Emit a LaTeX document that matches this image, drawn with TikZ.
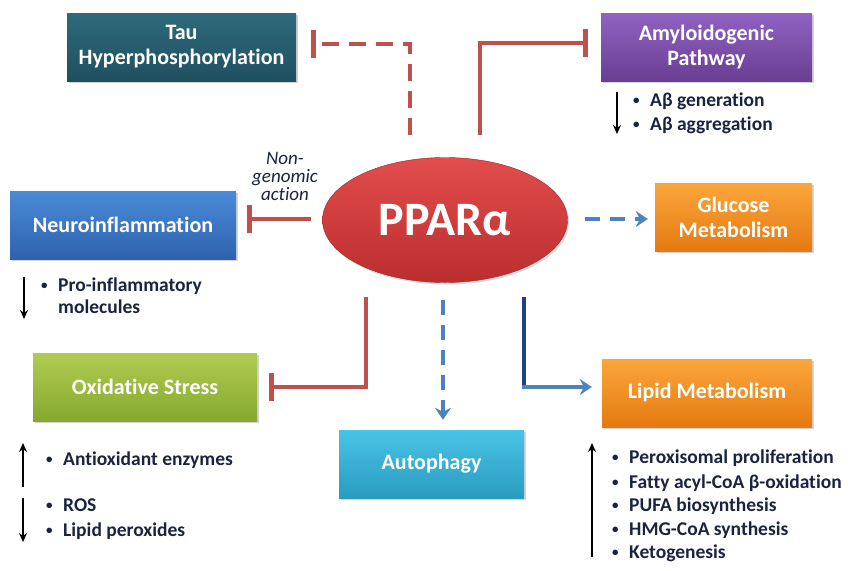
\documentclass[tikz,border=0pt]{standalone}
\usepackage{fontspec}
\setmainfont[Ligatures=NoCommon]{Carlito}
\usetikzlibrary{arrows.meta,shadows,shapes.geometric}
\definecolor{inhred}{HTML}{C0504D}
\definecolor{actblue}{HTML}{4F81BD}
\definecolor{lipnavy}{HTML}{22407A}
\definecolor{navy}{HTML}{1A2340}
\definecolor{tauT}{HTML}{2E6A7C}\definecolor{tauB}{HTML}{1F5060}
\definecolor{amyT}{HTML}{9062C2}\definecolor{amyB}{HTML}{6A3E92}
\definecolor{neuT}{HTML}{4A8BD8}\definecolor{neuB}{HTML}{2E62AE}
\definecolor{oraT}{HTML}{FBA63C}\definecolor{oraB}{HTML}{E57A10}
\definecolor{oxT}{HTML}{B0CC52}\definecolor{oxB}{HTML}{86A82E}
\definecolor{autT}{HTML}{48C4E6}\definecolor{autB}{HTML}{2A9BBF}
\definecolor{ppT}{HTML}{E24C4C}\definecolor{ppB}{HTML}{BC2E2E}
\newcommand{\bul}{\makebox[17pt][l]{\raisebox{1.5pt}{\fontsize{13}{13}\selectfont\textbullet}}}
\tikzset{
  box/.style={rectangle, minimum height=68pt, text=white, align=center,
    font=\fontsize{22}{25}\selectfont\bfseries, inner sep=2pt,
    drop shadow={opacity=0.35, shadow xshift=1.5pt, shadow yshift=-2pt}},
  inhib/.style={draw=inhred, line width=4.5pt, -{Bar[width=28pt,line width=4.5pt]}},
  rdsh/.style={dash pattern=on 17pt off 10pt},
  bdsh/.style={dash pattern=on 15pt off 10pt},
  act/.style={draw=actblue, line width=4.5pt, -{Stealth[length=12pt,width=16pt,inset=4pt]}},
  bl/.style={text=navy, anchor=base west, inner sep=0pt,
    font=\fontsize{19.5}{24}\selectfont\bfseries},
  bk/.style={draw=black, line width=1.5pt, -{Stealth[length=9pt,width=8pt]}}
}
\begin{document}
\begin{tikzpicture}[x=1pt,y=-1pt]
\useasboundingbox (0,0) rectangle (850,570);
% boxes
\node[box, minimum width=229pt, top color=tauT, bottom color=tauB] (tau) at (181.5,47) {Tau\\Hyperphosphorylation};
\node[box, minimum width=211pt, top color=amyT, bottom color=amyB] (amy) at (706.5,47) {Amyloidogenic\\Pathway};
\node[box, minimum width=226pt, top color=neuT, bottom color=neuB] (neu) at (123,225) {Neuroinflammation};
\node[box, minimum width=157pt, top color=oraT, bottom color=oraB] (glu) at (733.5,217) {Glucose\\Metabolism};
\node[box, minimum width=224pt, top color=oxT, bottom color=oxB] (oxi) at (145,387) {Oxidative Stress};
\node[box, minimum width=185pt, top color=autT, bottom color=autB] (aut) at (431.5,464) {Autophagy};
\node[box, minimum width=210pt, top color=oraT, bottom color=oraB] (lip) at (707,393) {Lipid Metabolism};
% central ellipse
\node[ellipse, minimum width=245pt, minimum height=125pt, top color=ppT, bottom color=ppB,
  draw=ppB!85!black, line width=0.4pt, text=white, font=\fontsize{48}{52}\selectfont\bfseries,
  drop shadow={opacity=0.3, shadow xshift=1.5pt, shadow yshift=-2pt}] (ppar) at (445,220) {PPARα};
% start points
\coordinate (sTau) at (410,135);
\coordinate (sAmy) at (480,135);
\coordinate (sNeu) at (311,219);
\coordinate (sGlu) at (585,219);
\coordinate (sOxi) at (366,297);
\coordinate (sAut) at (443,300);
\coordinate (sLip) at (524,297);
% connectors
\draw[inhib, rdsh, shorten >=15pt] (sTau) |- ([yshift=3pt]tau.east);
\draw[inhib, shorten >=13pt] (sAmy) |- ([yshift=4pt]amy.west);
\draw[inhib, shorten >=11pt] (sNeu) -- (sNeu -| neu.east);
\draw[act, bdsh, shorten >=7pt] (sGlu) -- (sGlu -| glu.west);
\draw[inhib, shorten >=12pt] (sOxi) |- (oxi.east);
\draw[act, bdsh, shorten >=10pt] (sAut) -- (sAut |- aut.north);
\coordinate (cLip) at (524,387);
\draw[draw=lipnavy, line width=4.5pt] (sLip) -- ([yshift=-2.25pt]cLip);
\draw[act, shorten >=10pt] ([xshift=-2.25pt]cLip) -- (cLip -| lip.west);
% label
\node[font=\fontsize{19}{18}\selectfont\itshape, align=center, text=navy] (ng) at (285,176) {Non-\\genomic\\action};
% bullet lists
\node[bl] (amy1) at (633,106) {\bul Aβ generation};
\node[bl] (amy2) at (633,130) {\bul Aβ aggregation};
\coordinate (a1) at (617,92); \coordinate (a2) at (617,134);
\draw[bk] (a1) -- (a2);
\node[bl] (neu1) at (41,291) {\bul Pro-inflammatory};
\node[bl] (neu2) at (41,313) {\phantom{\bul}molecules};
\coordinate (n1) at (24,277); \coordinate (n2) at (24,319);
\draw[bk] (n1) -- (n2);
\node[bl] (ox1) at (46,465) {\bul Antioxidant enzymes};
\coordinate (o1) at (23,487); \coordinate (o2) at (23,443);
\draw[bk] (o1) -- (o2);
\node[bl] (ox2) at (46,511) {\bul ROS};
\node[bl] (ox3) at (46,536) {\bul Lipid peroxides};
\coordinate (o3) at (23,498); \coordinate (o4) at (23,542);
\draw[bk] (o3) -- (o4);
\node[bl] (lp1) at (612,463) {\bul Peroxisomal proliferation};
\node[bl] (lp2) at (612,488) {\bul Fatty acyl-CoA β-oxidation};
\node[bl] (lp3) at (612,511) {\bul PUFA biosynthesis};
\node[bl] (lp4) at (612,535) {\bul HMG-CoA synthesis};
\node[bl] (lp5) at (612,558) {\bul Ketogenesis};
\coordinate (l1) at (592,557); \coordinate (l2) at (592,443);
\draw[bk] (l1) -- (l2);
\end{tikzpicture}
\end{document}
